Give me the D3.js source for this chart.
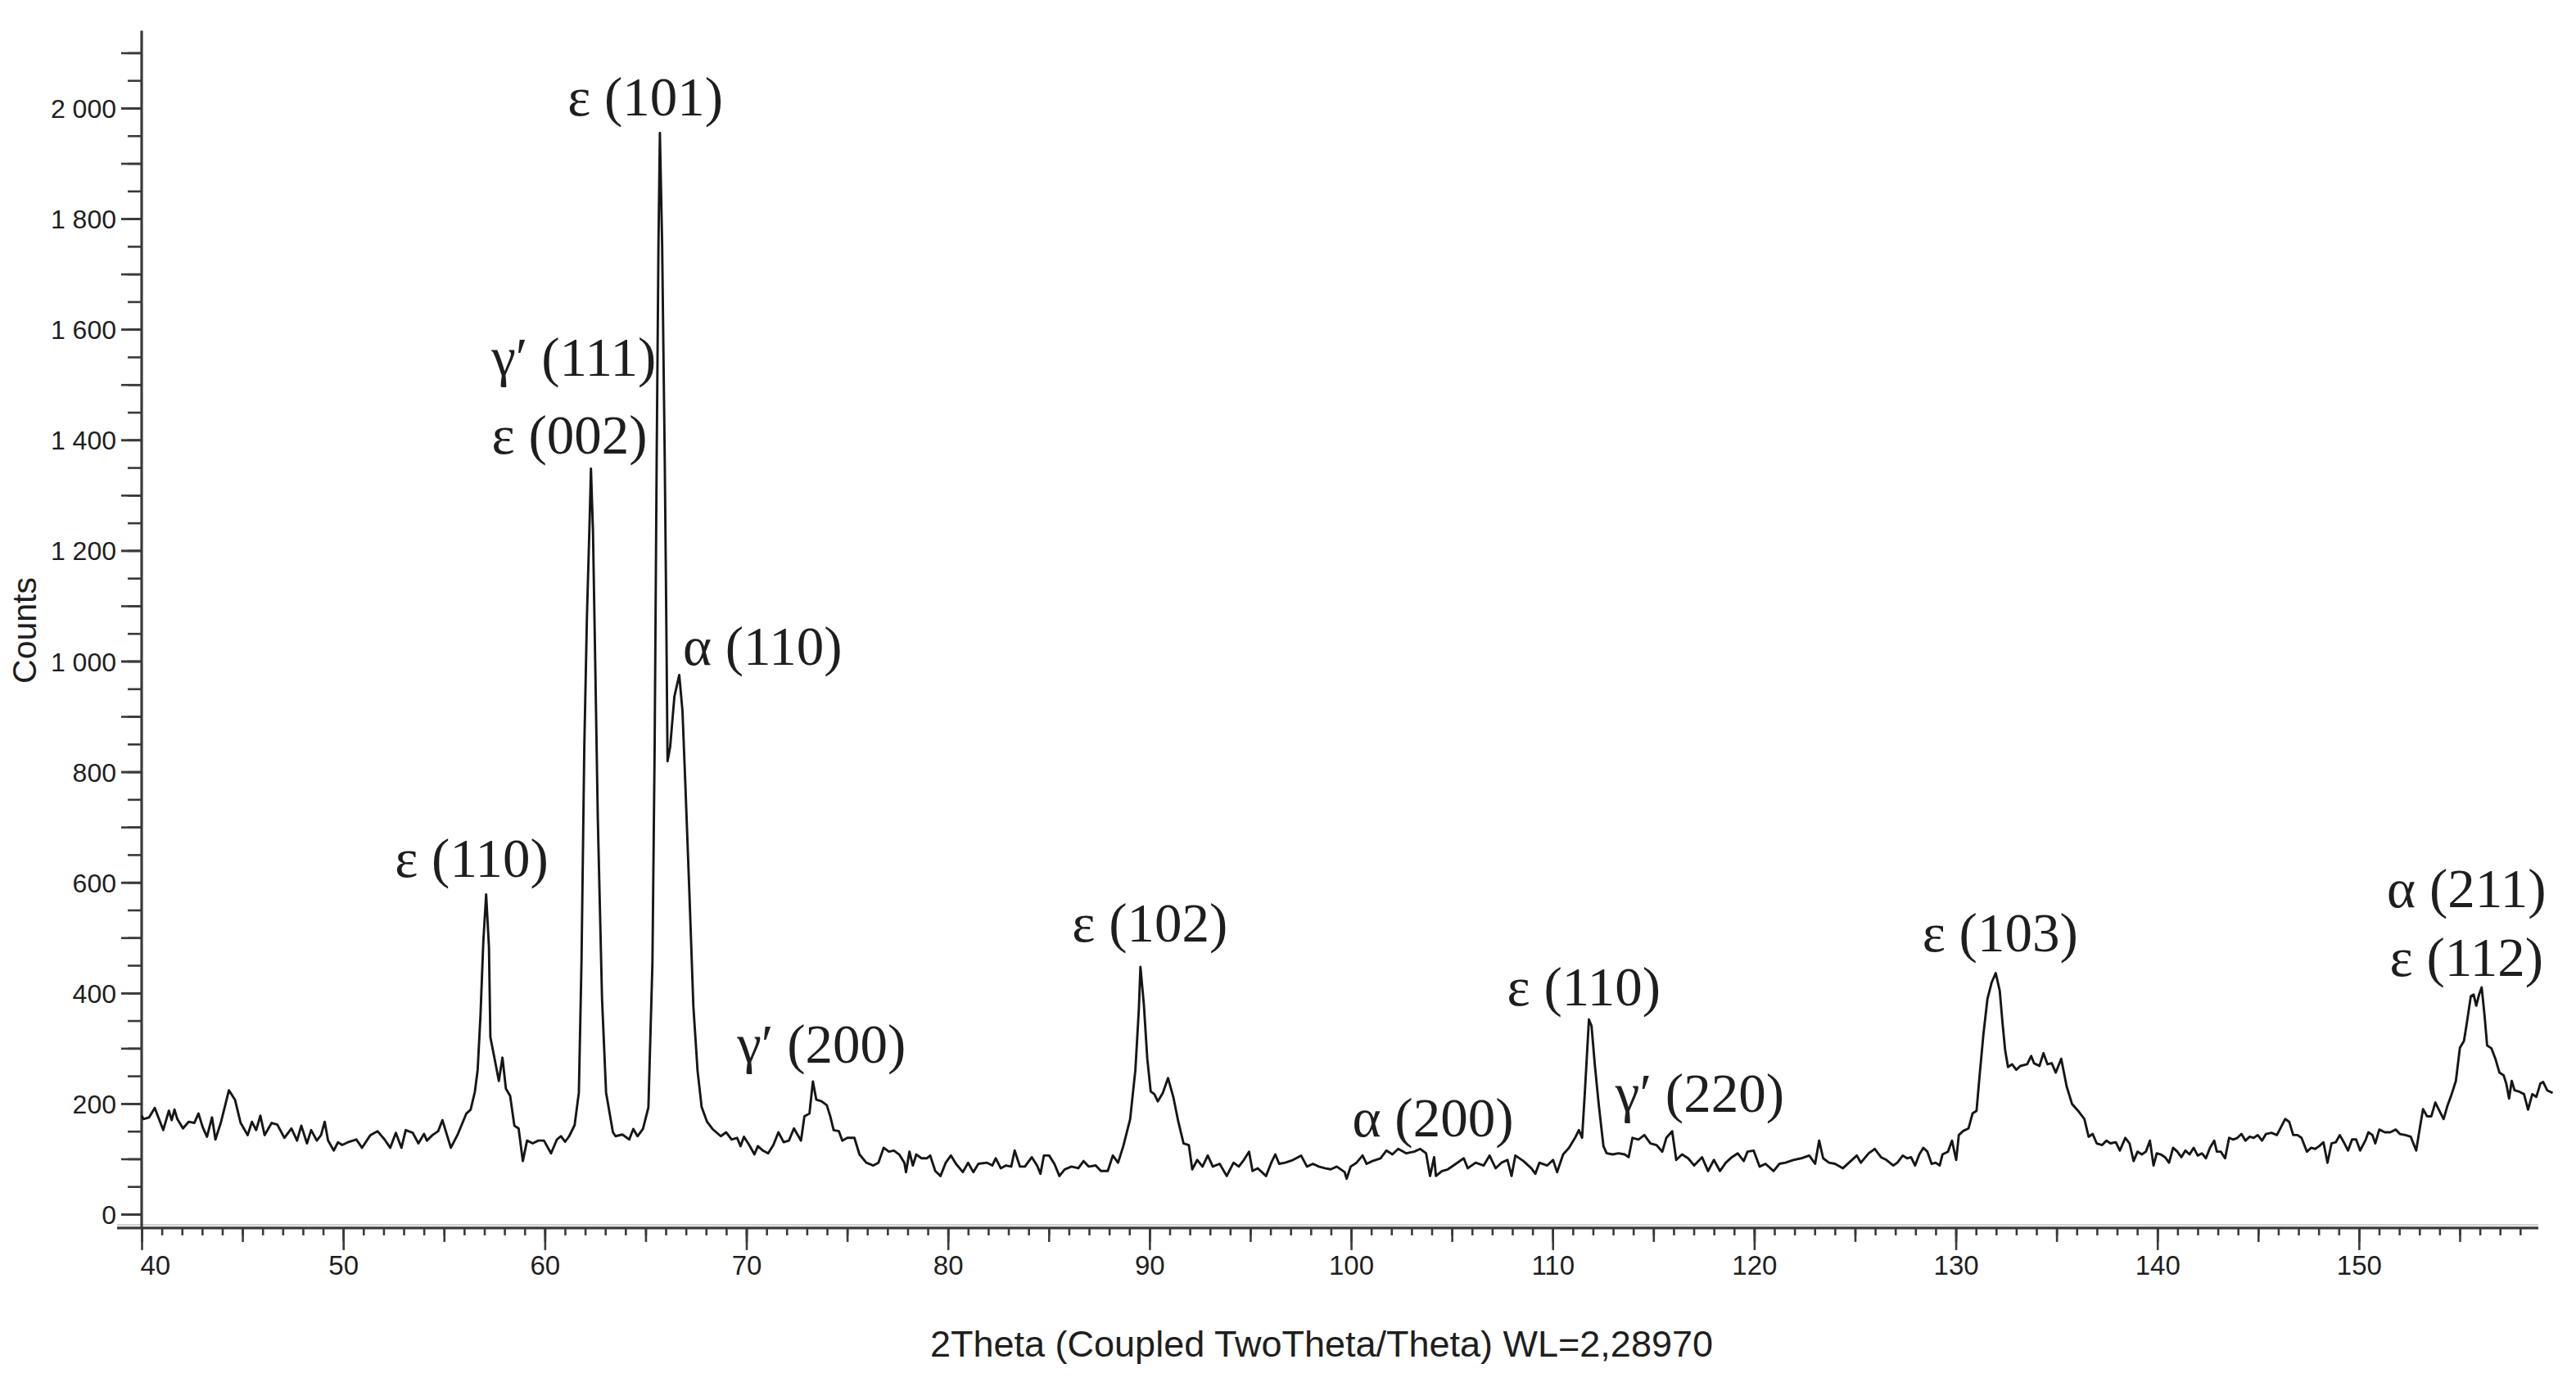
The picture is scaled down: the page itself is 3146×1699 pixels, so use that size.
<!DOCTYPE html>
<html><head><meta charset="utf-8">
<script src="https://cdn.jsdelivr.net/npm/d3@7"></script>
<style>
html,body{margin:0;padding:0;background:#fff;}
svg{display:block;}
</style></head><body>
<svg id="chart" width="3146" height="1699"></svg>
<script>
// ---- data: [2Theta (deg), Counts] ----
const scan = [
[40.00,178],[40.09,172],[40.37,175],[40.65,192],[41.07,152],[41.35,187],[41.49,170],[41.63,189],[41.77,172],[42.05,155],
[42.33,167],[42.61,165],[42.82,182],[43.03,157],[43.24,140],[43.49,175],[43.66,135],[43.94,167],[44.33,224],[44.63,207],
[44.91,165],[45.26,143],[45.47,167],[45.68,152],[45.89,178],[46.10,143],[46.45,165],[46.73,162],[47.08,138],[47.43,155],
[47.71,133],[47.92,160],[48.20,128],[48.41,152],[48.69,133],[48.90,143],[49.08,167],[49.25,133],[49.53,115],[49.74,130],
[49.95,125],[50.23,130],[50.65,135],[50.93,120],[51.35,143],[51.70,150],[52.05,135],[52.33,120],[52.61,147],[52.89,120],
[53.10,152],[53.45,147],[53.73,128],[54.01,145],[54.15,133],[54.43,143],[54.71,150],[54.92,170],[55.34,120],[55.69,145],
[56.11,182],[56.32,189],[56.53,221],[56.67,261],[56.81,360],[56.95,493],[57.09,578],[57.23,483],[57.30,320],[57.51,281],
[57.72,241],[57.90,283],[58.07,227],[58.28,214],[58.49,160],[58.70,155],[58.91,96],[59.12,133],[59.40,128],[59.68,133],
[59.96,133],[60.31,110],[60.60,135],[60.80,141],[61.01,131],[61.21,141],[61.48,161],[61.69,220],[61.82,454],[61.96,845],
[62.09,1080],[62.23,1262],[62.29,1348],[62.39,1236],[62.50,1001],[62.63,715],[62.84,389],[63.04,220],[63.38,148],[63.51,141],
[63.85,144],[64.19,135],[64.39,154],[64.60,141],[64.87,154],[65.14,193],[65.34,454],[65.45,845],[65.55,1366],[65.64,1757],
[65.71,1955],[65.82,1757],[65.95,1366],[66.02,1106],[66.09,819],[66.22,845],[66.43,936],[66.67,975],[66.83,910],[66.97,780],
[67.17,584],[67.37,376],[67.58,259],[67.78,194],[68.05,167],[68.32,154],[68.73,141],[69.00,148],[69.27,135],
[69.54,138],[69.71,123],[69.88,140],[70.14,125],[70.40,108],[70.57,123],[70.82,115],[71.08,110],[71.34,125],[71.59,148],
[71.85,130],[72.11,133],[72.36,155],[72.71,133],[72.88,177],[73.13,182],[73.30,240],[73.47,207],[73.73,204],[73.99,197],
[74.16,177],[74.33,152],[74.59,150],[74.76,133],[75.01,138],[75.36,138],[75.61,108],[75.95,93],[76.30,88],[76.55,93],
[76.81,120],[77.07,113],[77.32,115],[77.58,108],[77.84,93],[77.92,76],[78.09,113],[78.26,88],[78.43,108],[78.69,101],
[78.95,101],[79.12,106],[79.37,78],[79.63,69],[79.89,93],[80.15,106],[80.40,91],[80.74,76],[81.00,93],[81.26,76],
[81.51,91],[81.94,93],[82.20,88],[82.37,101],[82.62,83],[82.88,88],[83.14,86],[83.31,115],[83.57,86],[83.82,86],
[84.16,103],[84.42,88],[84.59,73],[84.76,106],[85.02,106],[85.28,91],[85.53,69],[85.79,81],[86.13,86],[86.47,83],
[86.73,96],[86.99,86],[87.33,88],[87.59,78],[87.93,78],[88.18,106],[88.44,93],[88.70,123],[89.04,172],[89.30,261],
[89.47,370],[89.55,447],[89.72,379],[89.89,281],[90.06,222],[90.24,217],[90.41,204],[90.66,219],[90.92,246],[91.18,212],
[91.43,167],[91.69,128],[91.95,125],[92.12,81],[92.37,98],[92.63,86],[92.89,106],[93.14,86],[93.48,91],[93.83,69],
[94.17,93],[94.43,86],[94.68,98],[94.94,113],[95.11,78],[95.37,83],
[95.78,69],[96.04,93],[96.24,108],[96.43,91],[96.73,93],[97.12,98],[97.52,106],[97.81,86],[98.11,91],[98.40,86],
[98.70,83],[98.99,81],[99.29,86],[99.68,76],[99.78,64],[99.98,86],[100.27,93],[100.57,106],[100.77,91],[101.06,96],
[101.46,101],[101.75,115],[102.05,108],[102.34,118],[102.74,110],[103.13,113],[103.43,118],[103.72,110],[103.92,69],[104.12,103],
[104.21,69],[104.51,78],[104.80,81],[105.20,91],[105.59,101],[105.79,83],[106.18,93],[106.58,88],[106.87,106],[107.17,83],
[107.46,93],[107.76,98],[107.96,69],[108.15,106],[108.55,96],[108.94,83],[109.14,73],[109.34,93],[109.73,88],[110.02,98],
[110.22,76],[110.52,108],[110.81,120],[111.11,138],[111.30,152],[111.46,138],[111.60,222],[111.80,352],[111.93,340],[112.09,271],
[112.29,197],[112.52,123],[112.68,110],[112.98,108],[113.27,110],[113.57,108],[113.77,103],[113.96,138],[114.26,135],[114.55,143],
[114.85,128],[115.15,125],[115.44,113],[115.64,138],[115.93,150],[116.13,98],[116.42,108],[116.72,101],[117.02,88],[117.41,103],
[117.71,78],[118.00,98],[118.30,78],[118.59,93],[118.89,103],[119.18,110],[119.48,96],[119.67,113],[119.97,115],[120.27,86],
[120.56,91],[120.96,78],[121.25,91],[121.55,93],[121.94,98],[122.33,101],[122.73,106],[123.02,91],[123.22,133],[123.42,101],
[123.71,93],[124.01,91],[124.40,83],[124.70,93],[125.09,106],[125.29,93],[125.68,110],[125.98,118],
[126.29,103],[126.56,98],[126.90,88],[127.10,93],[127.37,106],[127.58,101],[127.78,103],[127.98,88],[128.19,108],[128.39,120],
[128.59,113],[128.80,91],[129.00,93],[129.20,88],[129.34,108],[129.61,113],[129.81,133],[130.02,98],[130.15,143],[130.35,150],
[130.63,155],[130.83,182],[131.03,187],[131.17,246],[131.37,325],[131.57,389],[131.78,419],[131.98,436],[132.18,404],[132.32,345],
[132.45,296],[132.59,266],[132.79,271],[133.00,261],[133.20,268],[133.54,271],[133.74,286],[133.88,273],[134.15,268],[134.35,291],
[134.55,271],[134.76,273],[134.96,256],[135.23,281],[135.50,231],[135.77,199],[136.11,185],[136.38,172],[136.59,140],[136.79,145],
[136.99,128],[137.26,125],[137.47,133],[137.67,128],[137.94,130],[138.14,115],[138.41,138],[138.62,128],[138.82,96],[139.02,113],
[139.23,108],[139.43,113],[139.63,133],[139.81,88],[139.97,110],[140.17,108],[140.38,103],[140.58,93],[140.78,120],[140.99,113],
[141.19,103],[141.39,115],[141.60,108],[141.80,120],[142.00,106],[142.21,110],[142.41,101],[142.61,120],[142.82,133],[142.95,113],
[143.15,113],[143.36,101],[143.56,138],[143.76,135],[143.97,138],[144.17,145],[144.37,133],[144.58,140],[144.78,138],[144.98,143],
[145.19,133],[145.39,145],[145.66,147],[145.93,143],[146.13,157],[146.34,172],[146.54,167],[146.74,143],[146.95,143],[147.15,138],
[147.42,113],[147.63,120],[147.83,118],[148.03,123],[148.24,130],[148.44,93],[148.64,128],[148.85,130],[149.05,143],[149.25,130],
[149.46,115],[149.66,135],[149.86,135],[150.06,115],[150.34,135],[150.47,148],[150.67,143],[150.81,128],[151.01,153],[151.28,148],
[151.55,148],[151.83,153],[152.03,145],[152.30,143],[152.57,140],[152.84,115],[153.04,160],[153.18,190],[153.38,177],[153.59,177],
[153.79,202],[153.99,187],[154.20,172],[154.40,197],[154.60,217],[154.81,241],[155.01,301],[155.21,313],[155.35,345],[155.55,394],
[155.69,397],[155.82,377],[155.96,397],[156.09,410],[156.23,360],[156.36,305],[156.57,300],[156.77,281],[156.97,256],[157.18,251],
[157.31,236],[157.45,209],[157.58,241],[157.72,224],[157.92,222],[158.19,217],[158.39,189],[158.60,217],[158.80,212],[159.00,236],
[159.14,239],[159.34,224],[159.61,219]
];

const xTickValues = [40,50,60,70,80,90,100,110,120,130,140,150];
const yTickValues = [0,200,400,600,800,1000,1200,1400,1600,1800,2000];
const yTickLabels = ["0","200","400","600","800","1 000","1 200","1 400","1 600","1 800","2 000"];

const peakLabels = ["ε (101)","γ′ (111)","ε (002)","α (110)","ε (110)","γ′ (200)","ε (102)","α (200)","ε (110)","γ′ (220)","ε (103)","α (211)","ε (112)"];
const peakTheta  = [64.99, 61.44, 61.23, 70.8, 56.37, 73.73, 90.02, 104.06, 111.55, 117.3, 132.2, 155.34, 155.34];
const peakCounts = [1987, 1516, 1375, 993, 610, 274, 493, 141, 377, 185, 475, 555, 431];

const xTitle = "2Theta (Coupled TwoTheta/Theta) WL=2,28970";
const yTitle = "Counts";

// ---- layout ----
const svg = d3.select("#chart");
svg.append("rect").attr("width",3146).attr("height",1699).attr("fill","#ffffff");

const x = d3.scaleLinear().domain([40, 158.9]).range([173, 3100]);
const y = d3.scaleLinear().domain([0, 2000]).range([1483, 132]);
const axisCol = "#3a3a3a";
const textCol = "#1e1e1e";
const yAxisBottom = -25, yAxisTop = 2140;
const x0 = x(40), yBase = y(yAxisBottom);

// x axis ticks (minor 1°, medium 5°, major 10°)
function xAxisLayer(vals, size, labels){
  const g = svg.append("g").attr("transform", `translate(0,${yBase})`)
    .call(d3.axisBottom(x).tickValues(vals).tickSize(size).tickFormat(labels ? d3.format("d") : ""));
  g.select(".domain").remove();
  g.selectAll(".tick line").attr("stroke", axisCol).attr("stroke-width", 2.6);
  g.selectAll(".tick text").attr("fill", textCol).attr("font-family","Liberation Sans, Arial, sans-serif")
    .attr("font-size", 33).attr("y", 57).attr("dy", 0);
  return g;
}
xAxisLayer(d3.range(40, 159, 1), 9, false);
xAxisLayer(d3.range(40, 159, 5), 17, false);
const xMaj = xAxisLayer(xTickValues, 27, true);
xMaj.selectAll(".tick text").filter(d => d === 40).attr("text-anchor","start").attr("x", -2);

// y axis ticks (minor 50, medium 100)
function yAxisLayer(vals, size, labels){
  const g = svg.append("g").attr("transform", `translate(${x0},0)`)
    .call(d3.axisLeft(y).tickValues(vals).tickSize(size)
      .tickFormat(labels ? ((d,i) => yTickLabels[i]) : ""));
  g.select(".domain").remove();
  g.selectAll(".tick line").attr("stroke", axisCol).attr("stroke-width", 2.6);
  g.selectAll(".tick text").attr("fill", textCol).attr("font-family","Liberation Sans, Arial, sans-serif")
    .attr("font-size", 32).attr("x", -31).attr("dy", "0.36em");
  return g;
}
yAxisLayer(d3.range(0, 2101, 50), 17, false);
yAxisLayer(d3.range(0, 2101, 100), 25, false);
yAxisLayer(yTickValues, 25, true);

// axis lines
svg.append("line").attr("x1", x0 - 30).attr("x2", x.range()[1])
  .attr("y1", yBase - 4).attr("y2", yBase - 4).attr("stroke", "#d0d0d0").attr("stroke-width", 2);
svg.append("line").attr("x1", x0 - 30).attr("x2", x.range()[1])
  .attr("y1", yBase).attr("y2", yBase).attr("stroke", axisCol).attr("stroke-width", 3.2);
svg.append("line").attr("x1", x0).attr("x2", x0)
  .attr("y1", y(yAxisTop)).attr("y2", yBase).attr("stroke", axisCol).attr("stroke-width", 3.2);

// pattern line
const line = d3.line().x(d => x(d[0])).y(d => y(d[1]));
svg.append("path").datum(scan).attr("d", line)
  .attr("fill","none").attr("stroke","#161616").attr("stroke-width",2.9).attr("stroke-linejoin","round");

// peak labels
svg.append("g").selectAll("text").data(peakLabels).join("text")
  .attr("x", (d,i) => x(peakTheta[i])).attr("y", (d,i) => y(peakCounts[i]))
  .attr("text-anchor","middle").attr("font-family","Liberation Serif, Times New Roman, serif")
  .attr("font-size", 67).attr("fill", textCol).text(d => d);

// titles
svg.append("text").attr("x", 1614).attr("y", 1657).attr("text-anchor","middle")
  .attr("font-family","Liberation Sans, Arial, sans-serif").attr("font-size",45).attr("fill",textCol).text(xTitle);
svg.append("text").attr("transform","translate(44,770) rotate(-90)").attr("text-anchor","middle")
  .attr("font-family","Liberation Sans, Arial, sans-serif").attr("font-size",41).attr("fill",textCol).text(yTitle);
</script>
</body></html>
